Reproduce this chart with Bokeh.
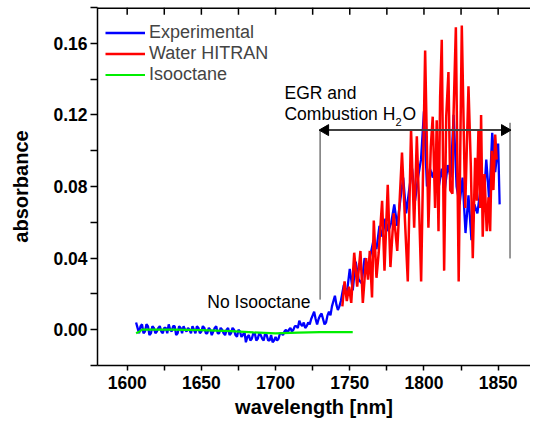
import math
from bokeh.plotting import figure
from bokeh.models import Range1d, FixedTicker, NumeralTickFormatter, Label
from bokeh.embed import file_html
from bokeh.resources import INLINE

# ---------------- data ----------------
exp_wl = list(range(1606, 1745)) + list(range(1746, 1851, 2)) + [1851]
exp_abs = [
    0.004, 0.001, -0.002, 0.002, 0.003, -0.002, -0.001, 0.003, 0.002, -0.003,
    -0.002, 0.002, 0.001, -0.002, -0.001, 0.001, 0.002, -0.001, -0.002, 0.001,
    0.001, -0.002, 0.003, 0.000, -0.001, 0.002, 0.002, -0.003, -0.002, 0.002,
    0.001, -0.002, 0.002, 0.000, -0.001, 0.001, 0.000, -0.002, 0.002, 0.000,
    -0.002, 0.002, 0.001, -0.002, -0.001, 0.002, 0.001, -0.002, -0.002, 0.001,
    0.000, -0.003, -0.001, 0.001, 0.002, -0.002, -0.002, 0.001, 0.000, -0.002,
    -0.003, 0.000, 0.001, -0.003, -0.002, 0.001, 0.000, -0.003, -0.004, 0.000,
    -0.001, -0.004, -0.003, -0.001, -0.007, -0.004, -0.003, -0.006, -0.005, -0.002,
    -0.002, -0.006, -0.005, -0.002, -0.003, -0.005, -0.006, -0.002, -0.003, -0.006,
    -0.006, -0.003, -0.007, -0.006, -0.004, -0.006, -0.005, -0.002, -0.002, -0.003,
    -0.001, 0.000, -0.002, 0.000, 0.001, -0.001, 0.000, 0.002, 0.002, 0.001,
    0.005, 0.003, 0.002, 0.004, 0.001, 0.002, 0.004, 0.003, 0.006, 0.008,
    0.010, 0.006, 0.003, 0.006, 0.008, 0.009, 0.006, 0.003, 0.004, 0.008,
    0.010, 0.008, 0.013, 0.016, 0.019, 0.014, 0.011, 0.013, 0.016,
    0.025, 0.020, 0.034, 0.022, 0.038, 0.028, 0.026, 0.040, 0.035, 0.042,
    0.050, 0.045, 0.058, 0.052, 0.062, 0.055, 0.060, 0.070, 0.058, 0.072,
    0.085, 0.065, 0.078, 0.090, 0.072, 0.085, 0.095, 0.122, 0.080, 0.090,
    0.085, 0.095, 0.080, 0.090, 0.078, 0.092, 0.085, 0.120, 0.080, 0.070,
    0.085, 0.054, 0.075, 0.050, 0.070, 0.065, 0.078, 0.068, 0.095, 0.072,
    0.110, 0.088, 0.104,
    0.070,
]

hitran_wl = [
    1745.0, 1746.5, 1748.0, 1749.5, 1751.0, 1753.0, 1755.0, 1757.2, 1758.8, 1761.0,
    1762.3, 1763.5, 1765.0, 1766.2, 1768.0, 1769.5, 1771.8, 1773.4, 1775.6, 1777.4,
    1779.6, 1782.0, 1783.5, 1785.2, 1787.2, 1789.1, 1791.3, 1793.4, 1795.2, 1796.5,
    1798.1, 1800.8, 1803.0, 1804.6, 1805.9, 1807.5, 1808.6, 1809.8, 1810.9, 1812.0,
    1813.6, 1815.0, 1816.5, 1817.7, 1819.2, 1819.9, 1821.5, 1823.4, 1825.5, 1827.8,
    1830.0, 1831.6, 1832.9, 1834.5, 1835.6, 1836.7, 1837.9, 1838.5, 1839.6, 1840.8,
    1842.3, 1843.5, 1844.6, 1845.7, 1846.8, 1848.0, 1849.0,
]
hitran_abs = [
    0.013, 0.027, 0.016, 0.024, 0.015, 0.043, 0.024, 0.044, 0.015, 0.040,
    0.028, 0.044, 0.018, 0.061, 0.029, 0.043, 0.072, 0.033, 0.081, 0.035,
    0.065, 0.044, 0.070, 0.099, 0.061, 0.027, 0.112, 0.057, 0.108, 0.075,
    0.027, 0.156, 0.057, 0.102, 0.119, 0.068, 0.117, 0.055, 0.130, 0.162,
    0.033, 0.119, 0.144, 0.078, 0.076, 0.119, 0.169, 0.027, 0.170, 0.068,
    0.136, 0.091, 0.040, 0.096, 0.072, 0.111, 0.068, 0.120, 0.052, 0.087,
    0.055, 0.074, 0.055, 0.100, 0.078, 0.109, 0.095,
]

iso_wl = [1606, 1608, 1610, 1630, 1650, 1670, 1685, 1700, 1715, 1730, 1752]
iso_abs = [-0.002, -0.0012, 0.0, 0.0, -0.0002, -0.0008, -0.0015, -0.002, -0.0016, -0.0014, -0.0013]

x_major = [1600, 1650, 1700, 1750, 1800, 1850]
x_minor = [1575, 1625, 1675, 1725, 1775, 1825, 1875]
x_top = [1600, 1625, 1650, 1675, 1700, 1725, 1750, 1775, 1800, 1825, 1850]
y_major = [0.0, 0.04, 0.08, 0.12, 0.16]
y_minor = [-0.02, 0.02, 0.06, 0.10, 0.14, 0.18]

X0, X1, Y0, Y1 = 1580, 1871.8, -0.02, 0.18
FONT = "Liberation Sans"

p = figure(width=530, height=427, output_backend="svg", toolbar_location=None,
           x_range=Range1d(X0, X1), y_range=Range1d(Y0, Y1),
           min_border_left=97, min_border_right=0, min_border_top=7, min_border_bottom=62)
p.outline_line_color = None
p.xgrid.grid_line_color = None
p.ygrid.grid_line_color = None

xa = p.xaxis[0]
xa.ticker = FixedTicker(ticks=x_major, minor_ticks=x_minor)
xa.axis_label = "wavelength [nm]"
ya = p.yaxis[0]
ya.ticker = FixedTicker(ticks=y_major, minor_ticks=y_minor)
ya.formatter = NumeralTickFormatter(format="0.00")
ya.axis_label = "absorbance"

for ax in (xa, ya):
    ax.axis_line_width = 1.5
    ax.axis_line_color = "black"
    ax.major_tick_line_width = 1.5
    ax.minor_tick_line_width = 1.5
    ax.major_tick_in = 0
    ax.minor_tick_in = 0
    ax.major_label_text_font = FONT
    ax.major_label_text_font_style = "bold"
    ax.major_label_text_font_size = "17.5px"
    ax.major_label_text_color = "black"
    ax.axis_label_text_font = FONT
    ax.axis_label_text_font_style = "bold"
    ax.axis_label_text_font_size = "20px"
    ax.axis_label_text_color = "black"

xa.major_tick_out = 5
xa.minor_tick_out = 5
xa.major_label_standoff = 5
xa.axis_label_standoff = 4
ya.major_tick_out = 7
ya.minor_tick_out = 7
ya.major_label_standoff = 3
ya.axis_label_standoff = 18

p.line(exp_wl, exp_abs, line_color="#0000ff", line_width=2.3, legend_label="Experimental")
p.line(hitran_wl, hitran_abs, line_color="#ff0000", line_width=2.5, legend_label="Water HITRAN")
p.line(iso_wl, iso_abs, line_color="#00ee00", line_width=2.2, legend_label="Isooctane")

# annotation lines and double arrow (body + two triangle heads)
p.segment(x0=[1730, 1858], y0=[0.0168, 0.0398], x1=[1730, 1858], y1=[0.1115, 0.1156],
          line_color="#333333", line_width=1)
p.segment(x0=[1733], y0=[0.1115], x1=[1855], y1=[0.1115], line_color="#404040", line_width=2)
p.scatter(x=[1733.6, 1854.4], y=[0.1115, 0.1115], marker="triangle", size=11,
          angle=[math.pi / 2, -math.pi / 2], fill_color="black", line_color="black")

# top frame line with inward ticks (drawn as glyphs)
p.segment(x0=[X0], y0=[Y1 - 0.0003], x1=[X1], y1=[Y1 - 0.0003], line_color="black", line_width=2)
p.segment(x0=x_top, y0=[Y1] * len(x_top), x1=x_top, y1=[Y1 - 0.004] * len(x_top),
          line_color="black", line_width=1.5)

def lab(x, y, t, size="17.5px", **kw):
    p.add_layout(Label(x=x, y=y, text=t, text_font=FONT, text_font_size=size,
                       text_color="black", text_baseline="alphabetic", **kw))

lab(1706, 0.1325, "EGR and")
lab(1706, 0.1204, "Combustion H")
lab(1706, 0.1162, "2", size="11px", x_offset=111)
lab(1706, 0.1204, "O", x_offset=118)
lab(1654, 0.0153, "No Isooctane")

lg = p.legend[0]
lg.location = (8, 280)
lg.margin = 0
lg.padding = 0
lg.spacing = 0
lg.border_line_color = None
lg.background_fill_alpha = 0
lg.glyph_width = 40
lg.glyph_height = 21
lg.label_height = 21
lg.label_standoff = 4
lg.label_text_font = FONT
lg.label_text_font_size = "18px"

open("out.html", "w").write(file_html(p, INLINE))
